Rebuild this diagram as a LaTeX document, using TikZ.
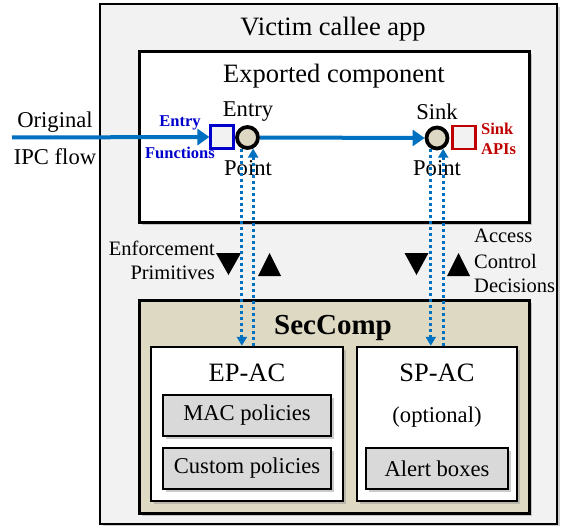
\documentclass[tikz,border=0pt]{standalone}
\usepackage{fontspec}
\setmainfont{Liberation Serif}
\usetikzlibrary{arrows.meta,shadows,calc}
\definecolor{outerfill}{HTML}{F2F2F2}
\definecolor{tanfill}{HTML}{DDD9C3}
\definecolor{ipcblue}{HTML}{0070C0}
\definecolor{efblue}{HTML}{0000CC}
\definecolor{sinkred}{HTML}{C00000}
\definecolor{boxgray}{HTML}{D9D9D9}
\definecolor{circfill}{HTML}{DDD8C4}
\definecolor{smallfill}{HTML}{F2F2F2}
\tikzset{
  shad/.style={drop shadow={shadow xshift=2.5pt,shadow yshift=-2.5pt,fill=black!40}},
  boxbase/.style={rectangle,draw=black,inner sep=0pt,shad},
  outerbox/.style={boxbase,fill=outerfill,line width=2pt},
  compbox/.style={boxbase,fill=white,line width=3pt},
  secbox/.style={boxbase,fill=tanfill,line width=3pt},
  acbox/.style={boxbase,fill=white,line width=2.5pt},
  polbox/.style={boxbase,fill=boxgray,line width=2.5pt},
  ptcircle/.style={circle,draw=black,fill=circfill,line width=3.8pt,minimum size=21pt,inner sep=0pt},
  apibox/.style={rectangle,fill=smallfill,line width=2.2pt,minimum width=23pt,minimum height=23pt,inner sep=0pt},
  bigtxt/.style={font=\fontsize{26.5}{30}\selectfont,inner sep=0pt},
  midtxt/.style={font=\fontsize{22.6}{26}\selectfont,inner sep=0pt},
  sidetxt/.style={font=\fontsize{20.5}{25}\selectfont,inner sep=0pt},
  apitxt/.style={font=\bfseries\fontsize{16.5}{20}\selectfont,inner sep=0pt},
  flow/.style={draw=ipcblue,line width=4pt,-{Triangle[length=12pt,width=16pt]}},
  dotflow/.style={draw=ipcblue,line width=3pt,dash pattern=on 3pt off 3pt,-{Triangle[length=9pt,width=10pt]}},
  tri/.style={fill=black},
}
\begin{document}
\begin{tikzpicture}[x=1pt,y=-1pt]
\useasboundingbox (0,0) rectangle (571,527);
% boxes
\node[outerbox,minimum width=457pt,minimum height=519pt] (app) at (328.5,264) {};
\node[bigtxt] (apptitle) at (333,29) {Victim callee app};
\node[compbox,minimum width=390pt,minimum height=170pt] (comp) at (334,137) {};
\node[bigtxt] (comptitle) at (334,76) {Exported component};
\node[secbox,minimum width=390pt,minimum height=213pt] (sec) at (334,406.5) {};
\node[font=\bfseries\fontsize{29}{32}\selectfont,inner sep=0pt] (sectitle) at (333,328) {SecComp};
\node[acbox,minimum width=192pt,minimum height=154pt] (epac) at (247,424) {};
\node[acbox,minimum width=160pt,minimum height=154pt] (spac) at (437,424) {};
\node[bigtxt] (eptitle) at (247,373) {EP-AC};
\node[bigtxt] (sptitle) at (437,373) {SP-AC};
\node[polbox,minimum width=168pt,minimum height=41pt,midtxt] (mac) at (247,415.5) {MAC policies};
\node[polbox,minimum width=168pt,minimum height=41pt,midtxt] (custom) at (247,468.5) {Custom policies};
\node[midtxt] (optional) at (437,417) {(optional)};
\node[polbox,minimum width=142pt,minimum height=41pt,midtxt] (alert) at (437,468.5) {Alert boxes};
% entry / sink
\node[apibox,draw=efblue] (entrybox) at (222,137) {};
\node[ptcircle] (entrypt) at (247.5,137.5) {};
\node[apibox,draw=sinkred] (sinkbox) at (464,137.5) {};
\node[ptcircle] (sinkpt) at (437,138) {};
\node[midtxt] (entrylbl) at (248,112) {Entry};
\node[midtxt] (entrypoint) at (248,168) {Point};
\node[midtxt] (sinklbl) at (437,112) {Sink};
\node[midtxt] (sinkpoint) at (437,168) {Point};
\node[apitxt,text=efblue] (ef1) at (180,123) {Entry};
\node[apitxt,text=efblue] (ef2) at (180,153) {Functions};
\node[apitxt,text=sinkred,anchor=west] (sa1) at (481,129) {Sink};
\node[apitxt,text=sinkred,anchor=west] (sa2) at (481,149) {APIs};
\node[midtxt] (orig1) at (55,122) {Original};
\node[midtxt] (orig2) at (55,157) {IPC flow};
% side labels
\node[sidetxt,anchor=east] (enf1) at (215,248) {Enforcement};
\node[sidetxt,anchor=east] (enf2) at (215,273) {Primitives};
\node[sidetxt,anchor=west] (acd1) at (474,236) {Access};
\node[sidetxt,anchor=west] (acd2) at (474,261) {Control};
\node[sidetxt,anchor=west] (acd3) at (474,286) {Decisions};
% triangles
\fill[tri] (216,253) -- (241,253) -- (228.5,275) -- cycle;
\fill[tri] (258,276) -- (281,276) -- (269.5,253) -- cycle;
\fill[tri] (404.5,253) -- (428.5,253) -- (416.5,275) -- cycle;
\fill[tri] (447,276) -- (470,276) -- (458.5,253) -- cycle;
% flows
\coordinate (ipcstart) at (12,137.5);
\draw[flow] (ipcstart) -- (entrybox.west);
\draw[flow] (entrypt.east) -- (sinkpt.west);
\draw[dotflow] (entrypt.-117) -- (entrypt.-117 |- epac.north);
\draw[dotflow] (entrypt.-63 |- epac.north) -- (entrypt.-63);
\draw[dotflow] (sinkpt.-120) -- (sinkpt.-120 |- spac.north);
\draw[dotflow] (sinkpt.-60 |- spac.north) -- (sinkpt.-60);
\end{tikzpicture}
\end{document}
